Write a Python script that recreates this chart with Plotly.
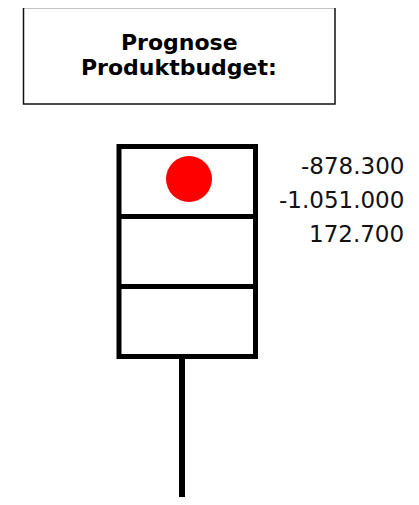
import plotly.graph_objects as go

# ---- data ----
title_lines = ["Prognose", "Produktbudget:"]
values = [-878300, -1051000, 172700]
light_colors = ["#FF0000", "#FFD700", "#00B050"]   # top, middle, bottom lamp
active_light = 0                                   # red lamp is lit


def fmt_de(v):
    s = f"{abs(v):,}".replace(",", ".")
    return ("-" if v < 0 else "") + s


# ---- layout constants (window pixel space) ----
W, H = 419, 505
OFF = 8  # page body margin
box_x0, box_x1 = 119, 255.5
box_top, cell_h = 146.5, 70
n_cells = len(light_colors)
box_bottom = box_top + n_cells * cell_h
pole_x, pole_bottom = 182, 497

fig = go.Figure()

shapes = []
shapes.append(dict(type="rect", x0=23.5, x1=335, y0=7.5, y1=104, layer="below",
                   line=dict(color="#111111", width=1.5)))
shapes.append(dict(type="line", x0=pole_x, x1=pole_x, y0=box_bottom, y1=pole_bottom,
                   layer="below", line=dict(color="black", width=6)))
shapes.append(dict(type="rect", x0=box_x0, x1=box_x1, y0=box_top, y1=box_bottom,
                   layer="below", line=dict(color="black", width=5), fillcolor="white"))
for i in range(1, n_cells):
    y = box_top + i * cell_h
    shapes.append(dict(type="line", x0=box_x0, x1=box_x1, y0=y, y1=y, layer="below",
                       line=dict(color="black", width=5)))

lamp_y = box_top + (active_light + 0.5) * cell_h - 2.5
fig.add_trace(go.Scatter(
    x=[189], y=[lamp_y], mode="markers",
    marker=dict(size=46, color=light_colors[active_light], line=dict(width=0)),
    hoverinfo="skip", showlegend=False))

annotations = []
title_y = [42, 67]
for t, y in zip(title_lines, title_y):
    annotations.append(dict(x=179, y=y, xref="x", yref="y", text=f"<b>{t}</b>",
                            showarrow=False, xanchor="center", yanchor="middle",
                            font=dict(family="DejaVu Sans", size=22, color="black")))

val_y0, val_dy = 166, 34
for i, v in enumerate(values):
    annotations.append(dict(x=406, y=val_y0 + i * val_dy, xref="x", yref="y",
                            text=fmt_de(v), showarrow=False,
                            xanchor="right", yanchor="middle",
                            font=dict(family="DejaVu Sans", size=23, color="#111111")))

fig.update_layout(
    width=W - OFF, height=H - OFF,
    margin=dict(l=0, r=0, t=0, b=0),
    paper_bgcolor="white", plot_bgcolor="white",
    xaxis=dict(range=[OFF, W], visible=False, fixedrange=True),
    yaxis=dict(range=[H, OFF], visible=False, fixedrange=True),
    shapes=shapes, annotations=annotations,
    showlegend=False,
)

fig.write_html("out.html", config={"displayModeBar": False})
